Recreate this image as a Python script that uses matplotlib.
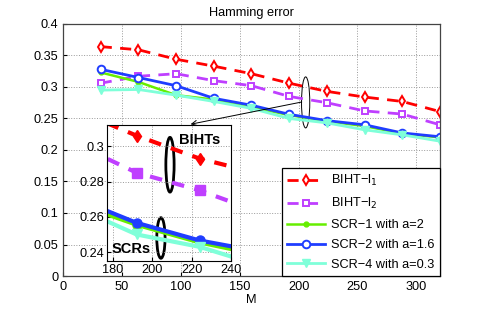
import numpy as np
import matplotlib
matplotlib.use("Agg")
import matplotlib.pyplot as plt
from matplotlib.patches import Ellipse

plt.rcParams['font.family'] = ['Liberation Sans', 'DejaVu Sans']
plt.rcParams['font.size'] = 9.2

M = [32, 64, 96, 128, 160, 192, 224, 256, 288, 320]
biht_l1 = [0.364, 0.359, 0.344, 0.333, 0.321, 0.306, 0.293, 0.284, 0.277, 0.261]
biht_l2 = [0.306, 0.317, 0.321, 0.310, 0.302, 0.285, 0.275, 0.262, 0.257, 0.240]
scr1 = [0.323, 0.308, 0.287, 0.280, 0.268, 0.2555, 0.2455, 0.238, 0.226, 0.220]
scr2 = [0.328, 0.315, 0.302, 0.282, 0.271, 0.2566, 0.2466, 0.240, 0.227, 0.221]
scr4 = [0.295, 0.296, 0.287, 0.277, 0.266, 0.250, 0.243, 0.232, 0.224, 0.214]

labels = ['BIHT\u2212l$_1$', 'BIHT\u2212l$_2$', 'SCR\u22121 with a=2',
          'SCR\u22122 with a=1.6', 'SCR\u22124 with a=0.3']
series = [biht_l1, biht_l2, scr1, scr2, scr4]
colors = ['#ff0000', '#bf3fff', '#66ee00', '#1f3dff', '#7fffd9']
styles = ['--', '--', '-', '-', '-']
markers = ['d', 's', 'o', 'o', 'v']

fig = plt.figure(figsize=(4.85, 3.11), dpi=100)
ax = fig.add_axes([0.130, 0.1125, 0.777, 0.8105])

for y, c, ls, mk, lab in zip(series, colors, styles, markers, labels):
    if lab.startswith('SCR\u22121'):
        ax.plot(M, y, ls, color=c, marker=mk, ms=3.5, mfc=c, lw=1.8, label=lab)
    elif mk == 'v':
        ax.plot(M, y, ls, color=c, marker=mk, ms=6, mfc=c, lw=2, label=lab)
    else:
        ax.plot(M, y, ls, color=c, marker=mk, ms=5.5 if mk != 's' else 5,
                mfc='white', mew=1.4, lw=2,
                dashes=(4, 3) if ls == '--' else (None, None), label=lab)

ax.set_xlim(0, 320)
ax.set_ylim(0, 0.4)
ax.set_xticks([0, 50, 100, 150, 200, 250, 300])
ax.set_yticks(np.arange(0, 0.41, 0.05))
ax.set_yticklabels(['0', '0.05', '0.1', '0.15', '0.2', '0.25', '0.3', '0.35', '0.4'])
ax.grid(True, linestyle=':', color='#999999', lw=0.7)
ax.tick_params(direction='in', length=3)
ax.set_xlabel('M', labelpad=1)
ax.set_title('Hamming error', fontsize=9.2, pad=6)
for s in ax.spines.values():
    s.set_color('#444444')
    s.set_linewidth(0.9)

leg = ax.legend(loc='lower right', handlelength=3.0, handletextpad=0.5,
                fancybox=False, edgecolor='black', framealpha=1,
                borderaxespad=0, labelspacing=0.62, fontsize=9.2)
leg.get_frame().set_linewidth(0.9)

# ellipse and arrow in main axes
ax.add_patch(Ellipse((206, 0.2755), 7, 0.081, fill=False, color='black', lw=0.7))
ax.annotate('', xy=(106, 0.240), xytext=(205, 0.277),
            arrowprops=dict(arrowstyle='->', color='black', lw=0.7))

# inset
ins = fig.add_axes([0.2206, 0.161, 0.2557, 0.437])
for y, c, ls, mk in zip(series, colors, styles, markers):
    ins.plot(M, y, ls, color=c, marker=mk, ms=6.5, mfc=c, lw=3,
             dashes=(3, 2.5) if ls == '--' else (None, None))
ins.set_xlim(177, 240)
ins.set_ylim(0.235, 0.312)
ins.set_xticks([180, 200, 220, 240])
ins.set_yticks([0.24, 0.26, 0.28, 0.3])
ins.set_yticklabels(['0.24', '0.26', '0.28', '0.3'])
ins.grid(True, linestyle=':', color='#999999', lw=0.7)
ins.tick_params(direction='in', length=3, labelsize=9.2, pad=2)
ins.add_patch(Ellipse((209, 0.2895), 4.2, 0.031, fill=False, color='black', lw=2))
ins.add_patch(Ellipse((204.4, 0.248), 4.2, 0.023, fill=False, color='black', lw=2))
ins.text(213.5, 0.3035, 'BIHTs', fontsize=10.5, fontweight='bold', va='center')
ins.text(179.5, 0.2415, 'SCRs', fontsize=10.5, fontweight='bold', va='center')

fig.savefig('out.png', dpi=100)
